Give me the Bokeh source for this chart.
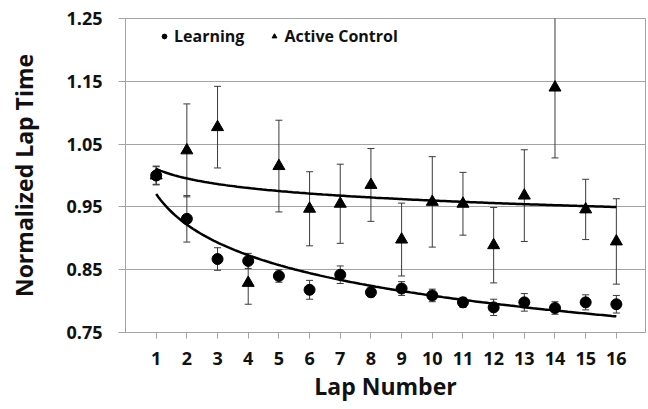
import numpy as np
from bokeh.plotting import figure
from bokeh.models import (FixedTicker, PrintfTickFormatter, Legend, LegendItem,
                          ColumnDataSource, Range1d)
from bokeh.embed import file_html
from bokeh.resources import INLINE

# ---- data ----
laps = list(range(1, 17))
learning_mean = [1.000, 0.931, 0.867, 0.864, 0.840, 0.818, 0.842, 0.814,
                 0.820, 0.809, 0.798, 0.790, 0.798, 0.789, 0.798, 0.795]
learning_err = [0.014, 0.037, 0.018, 0.012, 0.010, 0.015, 0.014, 0.007,
                0.011, 0.010, 0.008, 0.013, 0.014, 0.010, 0.012, 0.014]
control_mean = [1.000, 1.040, 1.077, 0.829, 1.015, 0.947, 0.955, 0.985,
                0.898, 0.958, 0.955, 0.889, 0.968, 1.140, 0.946, 0.895]
control_err = [0.015, 0.074, 0.065, 0.034, 0.073, 0.059, 0.063, 0.058,
               0.058, 0.072, 0.050, 0.060, 0.073, 0.112, 0.048, 0.068]
y_ticks = [0.75, 0.85, 0.95, 1.05, 1.15, 1.25]
x_ticks = laps
series_names = ["Learning", "Active Control"]
x_label = "Lap Number"
y_label = "Normalized Lap Time"

FONT = "Open Sans"
GRID = "#a3a3a3"
BAR = "#3a3a3a"

p = figure(width=648, height=409, output_backend="svg", toolbar_location=None,
           x_range=Range1d(0, 16.95), y_range=Range1d(0.75, 1.25),
           min_border_left=125, min_border_right=3, min_border_top=18,
           min_border_bottom=77)
p.background_fill_color = "white"
p.border_fill_color = "white"
p.outline_line_color = GRID
p.outline_line_width = 1

# grid
p.xgrid.visible = False
p.ygrid.ticker = FixedTicker(ticks=y_ticks)
p.ygrid.grid_line_color = GRID
p.ygrid.grid_line_width = 1

# axes
for ax in (p.xaxis[0], p.yaxis[0]):
    ax.axis_line_color = GRID
    ax.major_tick_line_color = GRID
    ax.minor_tick_line_color = None
    ax.major_tick_in = 0
    ax.major_label_text_font = FONT
    ax.major_label_text_font_style = "bold"
    ax.major_label_text_font_size = "18px"
    ax.major_label_text_color = "#111111"
    ax.axis_label_text_font = FONT
    ax.axis_label_text_font_style = "bold"
    ax.axis_label_text_font_size = "23px"
    ax.axis_label_text_color = "#111111"

p.yaxis.ticker = FixedTicker(ticks=y_ticks)
p.yaxis.formatter = PrintfTickFormatter(format="%.2f")
p.yaxis.major_tick_out = 7
p.yaxis.major_label_standoff = 16
p.yaxis.axis_label = y_label
p.yaxis.axis_label_standoff = 23

p.xaxis.ticker = FixedTicker(ticks=x_ticks)
p.xaxis.major_tick_out = 6
p.xaxis.major_label_standoff = 13
p.xaxis.axis_label = x_label
p.xaxis.axis_label_standoff = 2

# error bars
l_src = ColumnDataSource(dict(
    x=laps, y=learning_mean,
    lo=[m - e for m, e in zip(learning_mean, learning_err)],
    hi=[m + e for m, e in zip(learning_mean, learning_err)]))
c_src = ColumnDataSource(dict(
    x=laps, y=control_mean,
    lo=[m - e for m, e in zip(control_mean, control_err)],
    hi=[m + e for m, e in zip(control_mean, control_err)]))

for src in (c_src, l_src):
    p.segment(x0="x", y0="lo", x1="x", y1="hi", source=src,
              line_color=BAR, line_width=1)
    p.scatter(x="x", y="lo", source=src, marker="dash", size=7,
              line_color=BAR, line_width=1)
    p.scatter(x="x", y="hi", source=src, marker="dash", size=7,
              line_color=BAR, line_width=1)

# markers
r_ctrl = p.scatter(x="x", y="y", source=c_src, marker="triangle", size=12,
                   fill_color="black", line_color="black")
r_learn = p.scatter(x="x", y="y", source=l_src, marker="circle", size=11,
                    fill_color="black", line_color="black")

# logarithmic trend lines fitted to the data
lx = np.log(np.array(laps, dtype=float))
xs = np.linspace(1, 16, 200)
for ys in (learning_mean, control_mean):
    b, a = np.polyfit(lx, np.array(ys), 1)
    p.line(xs, a + b * np.log(xs), line_color="black", line_width=2.5)

# legend
legend = Legend(items=[LegendItem(label=series_names[0], renderers=[r_learn]),
                       LegendItem(label=series_names[1], renderers=[r_ctrl])],
                orientation="horizontal", location=(33, 285))
legend.border_line_color = None
legend.background_fill_alpha = 0
legend.padding = 0
legend.margin = 0
legend.spacing = 24
legend.glyph_width = 12
legend.glyph_height = 20
legend.label_height = 20
legend.label_standoff = 4
legend.label_text_font = FONT
legend.label_text_font_style = "bold"
legend.label_text_font_size = "16px"
legend.label_text_color = "#111111"
p.add_layout(legend, "center")

open("out.html", "w").write(file_html(p, INLINE))
